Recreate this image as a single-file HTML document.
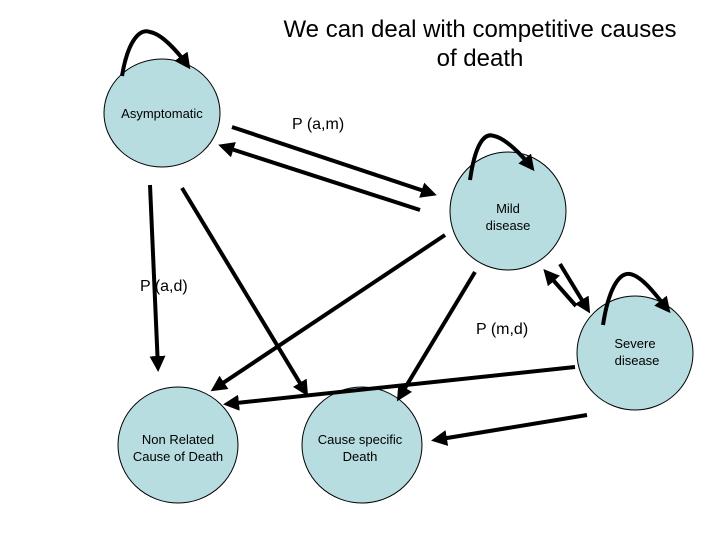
<!DOCTYPE html>
<html><head><meta charset="utf-8"><style>
html,body{margin:0;padding:0;background:#fff;}
svg{display:block;font-family:"Liberation Sans",sans-serif;}
</style></head><body>
<svg width="720" height="540" viewBox="0 0 720 540" xmlns="http://www.w3.org/2000/svg">
<defs>
<marker id="a" markerWidth="4" markerHeight="4" refX="3" refY="2" orient="auto" markerUnits="strokeWidth">
<path d="M0,0 L4,2 L0,4 z" fill="#000"/></marker>
</defs>
<g fill="#b7dde0" stroke="#000" stroke-width="1">
<ellipse cx="162" cy="113" rx="58" ry="54"/>
<ellipse cx="508" cy="211" rx="58" ry="59"/>
<ellipse cx="635" cy="353" rx="58" ry="57"/>
<ellipse cx="178" cy="445" rx="60" ry="58"/>
<ellipse cx="362" cy="445" rx="60" ry="58"/>
</g>
<g stroke="#000" stroke-width="4" fill="none" marker-end="url(#a)">
<path d="M122,76 C128,40 140,28 150,32 C162,34 178,52 188,66"/>
<path d="M470,180 C475,145 484,132 494,136 C505,138 522,155 532,168"/>
<path d="M603,325 C608,292 618,272 630,274 C642,276 656,295 668,310"/>
<line x1="232" y1="127" x2="433" y2="194"/>
<line x1="420" y1="210" x2="222" y2="146"/>
<line x1="150" y1="185" x2="158" y2="368"/>
<line x1="182" y1="188" x2="306" y2="393"/>
<line x1="445" y1="235" x2="214" y2="389"/>
<line x1="475" y1="272" x2="399" y2="398"/>
<line x1="560" y1="264" x2="588" y2="310"/>
<line x1="576" y1="306" x2="546" y2="272"/>
<line x1="575" y1="367" x2="227" y2="404"/>
<line x1="587" y1="415" x2="435" y2="440"/>
</g>
<g font-size="24" text-anchor="middle" fill="#000">
<text x="480" y="37">We can deal with competitive causes</text>
<text x="480" y="66">of death</text>
</g>
<g font-size="16" fill="#000">
<text x="292" y="129">P (a,m)</text>
<text x="140" y="291">P (a,d)</text>
<text x="476" y="334">P (m,d)</text>
</g>
<g font-size="13" text-anchor="middle" fill="#000">
<text x="162" y="118">Asymptomatic</text>
<text x="508" y="213">Mild</text>
<text x="508" y="230">disease</text>
<text x="635" y="348">Severe</text>
<text x="637" y="365">disease</text>
<text x="178" y="444">Non Related</text>
<text x="178" y="461">Cause of Death</text>
<text x="360" y="444">Cause specific</text>
<text x="360" y="461">Death</text>
</g>
</svg>
</body></html>
